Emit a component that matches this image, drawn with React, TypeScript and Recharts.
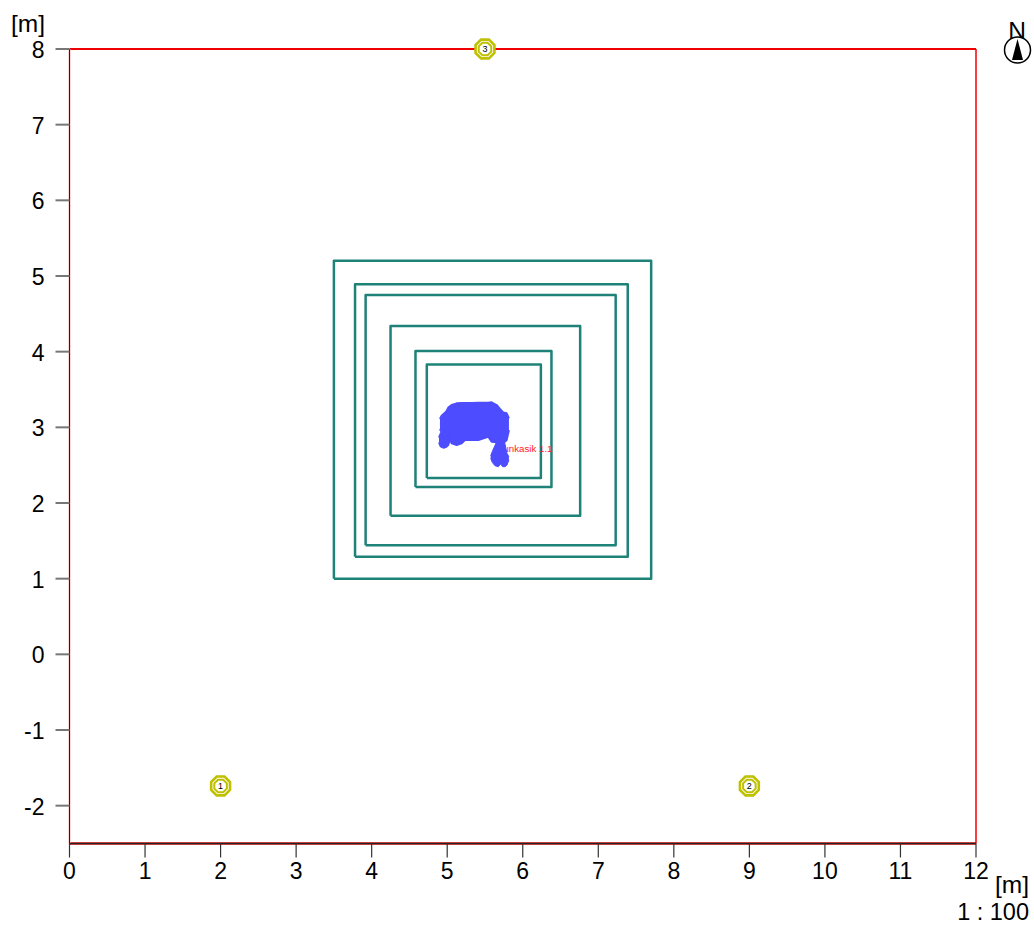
import { ComposedChart, XAxis, YAxis, Line, Area, Scatter } from 'recharts';

const xTicks = [0, 1, 2, 3, 4, 5, 6, 7, 8, 9, 10, 11, 12];
const yTicks = [-2, -1, 0, 1, 2, 3, 4, 5, 6, 7, 8];

const topEdge = [{ x: 0, y: 8 }, { x: 12, y: 8 }];
const rightEdge = [{ x: 12, y: 8 }, { x: 12, y: -2.5 }];
const bottomEdge = [{ x: 0, y: -2.5 }, { x: 12, y: -2.5 }];
const leftEdge = [{ x: 0, y: -2.5 }, { x: 0, y: 8 }];

// left, right, bottom, top
const squareBounds = [
  [3.5, 7.7, 1.0, 5.2],
  [3.78, 7.39, 1.29, 4.89],
  [3.92, 7.23, 1.44, 4.75],
  [4.25, 6.76, 1.83, 4.34],
  [4.58, 6.38, 2.21, 4.01],
  [4.73, 6.24, 2.33, 3.83],
];

const squares = squareBounds.map(([l, r, b, t]) => [
  { x: l, y: b },
  { x: r, y: b },
  { x: r, y: t },
  { x: l, y: t },
  { x: l, y: b },
]);

const sensors = [
  { x: 2, y: -1.74, label: '1' },
  { x: 9, y: -1.74, label: '2' },
  { x: 5.5, y: 8, label: '3' },
];

const sourceLabel = [{ x: 6.03, y: 2.68, label: 'Funkasik 1.1' }];

// silhouette of the figure as [low, high] columns
const body = [
  { x: 4.904, range: [2.978, 3.11] },
  { x: 4.926, range: [2.934, 3.154] },
  { x: 4.962, range: [2.921, 3.185] },
  { x: 4.992, range: [2.907, 3.216] },
  { x: 5.014, range: [2.89, 3.26] },
  { x: 5.059, range: [2.788, 3.295] },
  { x: 5.125, range: [2.766, 3.317] },
  { x: 5.191, range: [2.788, 3.322] },
  { x: 5.235, range: [2.832, 3.322] },
  { x: 5.323, range: [2.832, 3.322] },
  { x: 5.412, range: [2.832, 3.326] },
  { x: 5.5, range: [2.863, 3.326] },
  { x: 5.544, range: [2.876, 3.326] },
  { x: 5.588, range: [2.81, 3.331] },
  { x: 5.654, range: [2.802, 3.295] },
  { x: 5.698, range: [2.81, 3.243] },
  { x: 5.742, range: [2.788, 3.198] },
  { x: 5.787, range: [2.832, 3.185] },
  { x: 5.817, range: [2.965, 3.119] },
];

const paw = [
  { x: 4.891, range: [2.802, 2.863] },
  { x: 4.913, range: [2.749, 2.916] },
  { x: 4.948, range: [2.731, 2.965] },
  { x: 4.984, range: [2.74, 2.943] },
  { x: 5.014, range: [2.766, 2.89] },
  { x: 5.032, range: [2.832, 2.876] },
];

const hand = [
  { x: 5.575, range: [2.59, 2.625] },
  { x: 5.597, range: [2.537, 2.68] },
  { x: 5.632, range: [2.493, 2.76] },
  { x: 5.676, range: [2.48, 2.86] },
  { x: 5.707, range: [2.515, 2.86] },
  { x: 5.734, range: [2.48, 2.86] },
  { x: 5.765, range: [2.48, 2.78] },
  { x: 5.791, range: [2.502, 2.656] },
  { x: 5.817, range: [2.568, 2.61] },
];

const FONT = '"Liberation Sans", Arial, sans-serif';
const TEAL = '#1f8278';
const BLUE = '#4d4dff';
const YELLOW = '#bfc000';

function octagon(cx: number, cy: number, r: number) {
  const pts = [];
  for (let i = 0; i < 8; i++) {
    const a = ((i + 0.5) * Math.PI) / 4;
    pts.push(`${cx + r * Math.cos(a)},${cy + r * Math.sin(a)}`);
  }
  return pts.join(' ');
}

function SensorMark(props: any) {
  const { cx, cy, payload } = props;
  return (
    <g>
      <polygon points={octagon(cx, cy, 10.2)} fill="#fff" stroke={YELLOW} strokeWidth={2.6} />
      <polygon points={octagon(cx, cy, 6.8)} fill="#fff" stroke={YELLOW} strokeWidth={2} />
      <text x={cx} y={cy + 3} textAnchor="middle" fontSize={9} fontFamily={FONT} fill="#000">
        {payload.label}
      </text>
    </g>
  );
}

function SourceText(props: any) {
  const { cx, cy, payload } = props;
  return (
    <text x={cx} y={cy} textAnchor="middle" fontSize={9.7} fontFamily={FONT} fill="#ff2020">
      {payload.label}
    </text>
  );
}

export default function App() {
  const axisTick = { fill: '#000', fontSize: 23, fontFamily: FONT };
  return (
    <div style={{ position: 'absolute', left: 0, top: 0, width: 1034, height: 925 }}>
      <ComposedChart width={1034} height={925} margin={{ top: 49, right: 58, bottom: 0, left: 0 }}>
        <XAxis
          type="number"
          dataKey="x"
          domain={[0, 12]}
          ticks={xTicks}
          interval={0}
          height={81.5}
          stroke="#222"
          tick={axisTick}
          tickLine={{ stroke: '#333', strokeWidth: 1.2 }}
          tickSize={14}
          tickMargin={5}
        />
        <YAxis
          type="number"
          domain={[-2.5, 8]}
          ticks={yTicks}
          interval={0}
          width={69.5}
          stroke="#222"
          tick={{ ...axisTick, dy: 1 }}
          tickLine={{ stroke: '#777', strokeWidth: 2 }}
          tickSize={14}
          tickMargin={11}
        />
        <Line data={topEdge} dataKey="y" stroke="#f00000" strokeWidth={2} dot={false} isAnimationActive={false} />
        <Line data={rightEdge} dataKey="y" stroke="#f00000" strokeWidth={1.5} dot={false} isAnimationActive={false} />
        <Line data={bottomEdge} dataKey="y" stroke="#b00000" strokeWidth={2.5} dot={false} isAnimationActive={false} />
        <Line data={leftEdge} dataKey="y" stroke="#f0b0b0" strokeWidth={2} dot={false} isAnimationActive={false} />
        <Line data={leftEdge} dataKey="y" stroke="#300010" strokeWidth={1} dot={false} isAnimationActive={false} />
        {squares.map((sq, i) => (
          <Line key={i} data={sq} dataKey="y" stroke={TEAL} strokeWidth={2.5} strokeLinejoin="round" dot={false} isAnimationActive={false} />
        ))}
        <Scatter data={sourceLabel} dataKey="y" shape={SourceText} isAnimationActive={false} />
        <Area data={body} dataKey="range" type="linear" stroke={BLUE} strokeWidth={2} strokeLinejoin="round" fill={BLUE} fillOpacity={1} dot={false} isAnimationActive={false} zIndex={700} />
        <Area data={paw} dataKey="range" type="linear" stroke={BLUE} strokeWidth={2} strokeLinejoin="round" fill={BLUE} fillOpacity={1} dot={false} isAnimationActive={false} zIndex={700} />
        <Area data={hand} dataKey="range" type="linear" stroke={BLUE} strokeWidth={1} strokeLinejoin="round" fill={BLUE} fillOpacity={1} dot={false} isAnimationActive={false} zIndex={700} />
        <Scatter data={sensors} dataKey="y" shape={SensorMark} isAnimationActive={false} />
        <text x={28} y={32} textAnchor="middle" fontSize={24.5} fontFamily={FONT} fill="#000">[m]</text>
        <text x={1012} y={893} textAnchor="middle" fontSize={24.5} fontFamily={FONT} fill="#000">[m]</text>
        <text x={1029} y={920} textAnchor="end" fontSize={23.5} fontFamily={FONT} fill="#000">1 : 100</text>
        <text x={1017} y={39} textAnchor="middle" fontSize={24.5} fontFamily={FONT} fill="#000">N</text>
        <circle cx={1017.5} cy={50} r={13} fill="#fff" stroke="#000" strokeWidth={1.5} />
        <polygon points="1017.5,39 1012,60 1023,60" fill="#000" />
      </ComposedChart>
    </div>
  );
}
